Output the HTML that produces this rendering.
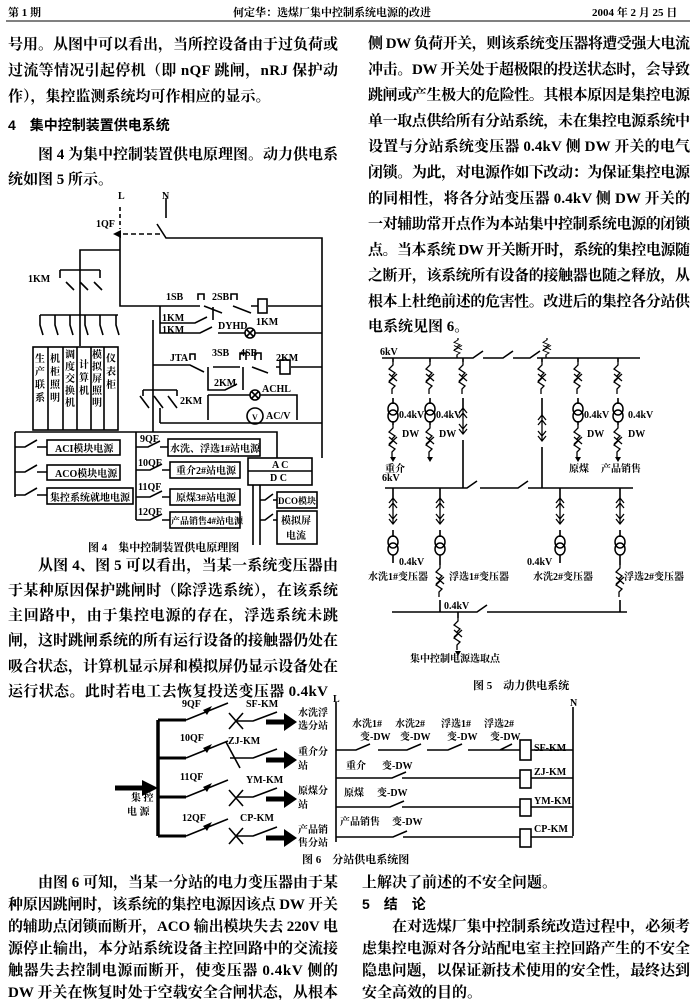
<!DOCTYPE html>
<html><head><meta charset="utf-8"><style>
html,body{margin:0;padding:0;background:#fff}
svg{display:block}
text{font-family:"Liberation Serif","Noto Serif CJK SC","Noto Sans CJK SC",serif;font-weight:700;fill:#000}
.b{font-size:15px}
.s{font-size:10px}
.t{font-size:11px}
.h{font-family:"Liberation Sans","Noto Sans CJK SC",sans-serif;font-size:14px}
</style></head><body>
<svg width="695" height="1000" viewBox="0 0 695 1000" xmlns="http://www.w3.org/2000/svg">
<defs>
<g id="zx" fill="none" stroke="#000" stroke-width="1.3">
<path d="M0,0 v3 l-4,4 l6,4 l-3,3 M-4,12 l8,7 M4,12 l-8,7 M0,16 l-4,4 l6,4 l-3,3 v5"/>
</g>
<g id="tr" fill="none" stroke="#000" stroke-width="1.5"><ellipse cx="0" cy="5" rx="5" ry="6"/><ellipse cx="0" cy="12" rx="5" ry="6"/></g>
<g id="da" fill="none" stroke="#000" stroke-width="1.3"><path d="M-4,5 l4,-5 l4,5 M-4,10 l4,-5 l4,5 M0,0 v26 M-4,21 l4,5 l4,-5 M-4,16 l4,5 l4,-5"/></g>
<path id="ar" d="M-3,-5 L0,0 L3,-5 Z" fill="#000"/>
</defs>

<!-- header -->
<text x="8" y="16" class="t">第 1 期</text>
<text x="233" y="16" class="t">何定华：选煤厂集中控制系统电源的改进</text>
<text x="592" y="16" class="t">2004 年 2 月 25 日</text>
<line x1="6" y1="21" x2="690" y2="21" stroke="#000" stroke-width="1"/>

<!-- left top text -->
<g class="b">
<text x="8" y="49" textLength="330">号用。从图中可以看出，当所控设备由于过负荷或</text>
<text x="8" y="75" textLength="330">过流等情况引起停机（即 nQF 跳闸，nRJ 保护动</text>
<text x="8" y="101">作），集控监测系统均可作相应的显示。</text>
<text x="8" y="130" class="h">4　集中控制装置供电系统</text>
<text x="38" y="159" textLength="300">图 4 为集中控制装置供电原理图。动力供电系</text>
<text x="8" y="184">统如图 5 所示。</text>
</g>

<!-- right top text -->
<g class="b">
<text x="368" y="48" textLength="322">侧 DW 负荷开关，则该系统变压器将遭受强大电流</text>
<text x="368" y="73.8" textLength="322">冲击。DW 开关处于超极限的投送状态时，会导致</text>
<text x="368" y="99.6" textLength="322">跳闸或产生极大的危险性。其根本原因是集控电源</text>
<text x="368" y="125.4" textLength="322">单一取点供给所有分站系统，未在集控电源系统中</text>
<text x="368" y="151.2" textLength="322">设置与分站系统变压器 0.4kV 侧 DW 开关的电气</text>
<text x="368" y="177" textLength="322">闭锁。为此，对电源作如下改动：为保证集控电源</text>
<text x="368" y="202.8" textLength="322">的同相性，将各分站变压器 0.4kV 侧 DW 开关的</text>
<text x="368" y="228.6" textLength="322">一对辅助常开点作为本站集中控制系统电源的闭锁</text>
<text x="368" y="254.4" textLength="322">点。当本系统 DW 开关断开时，系统的集控电源随</text>
<text x="368" y="280.2" textLength="322">之断开，该系统所有设备的接触器也随之释放，从</text>
<text x="368" y="306" textLength="322">根本上杜绝前述的危害性。改进后的集控各分站供</text>
<text x="368" y="331">电系统见图 6。</text>
</g>

<!-- FIGURE 4 -->
<g fill="none" stroke="#000" stroke-width="1.6">
<path d="M120,207 v22" stroke-dasharray="4,3"/>
<path d="M166,198 v20"/>
<path d="M157,224 l9,14 H322 V458"/>
<path d="M160,234 H118" stroke-dasharray="5,3"/>
<path d="M120,234 V306 H200 M204,306 l18,7 M233,306 l18,7 M251,306 H258 M268,306 H322"/>
<rect x="258" y="299" width="9" height="14"/>
<path d="M198,300 v-6 h6 v6 M231,300 v-6 h6 v6"/>
<path d="M120,250 H80 V346 M60,270 H100 M60,270 v8 M100,270 v8 M66,282 l8,8 M80,282 l8,8 M94,282 l8,8 M80,292 V315"/>
<path d="M40,315 H118 M40,315 v10 l3,10 M55,315 v10 l3,10 M70,315 v10 l3,10 M85,315 v10 l3,10 M100,315 v10 l3,10 M116,315 v10 l3,10"/>
<rect x="33" y="347" width="85" height="83"/>
<path d="M48,347 v83 M63,347 v83 M77,347 v83 M91,347 v83 M104,347 v83"/>
<path d="M160,306 V333 H200 l12,-6 M160,323 H195 l12,-6 M213,320 v-13 M218,333 H245 M255,333 H322"/>
<circle cx="250" cy="333" r="5"/><path d="M246,329 l8,8 M254,329 l-8,8"/>
<path d="M153,320 V365 V432 M153,365 H190 l14,7 M213,367 H240 M252,367 l16,6 M276,367 H280 M291,367 H322"/>
<rect x="280" y="360" width="10" height="14"/>
<path d="M190,360 v-6 h5 v6 M240,360 v-7 h6 v7 M255,360 v-7 h6 v7"/>
<path d="M208,367 V390 H225 l12,-6 M243,367 V390"/>
<path d="M143,390 v6 M177,390 v6 M143,390 H177 M140,396 l9,12 M154,396 l9,12 M168,396 l9,12 M160,408 v15"/>
<path d="M208,395 H250 M260,395 H297 V420 M208,395 V420 M160,423 H322"/>
<circle cx="255" cy="395" r="5"/><path d="M251,391 l8,8 M259,391 l-8,8"/>
<circle cx="255" cy="416" r="8"/>
<path d="M15,432 H277 V458 M15,432 V497 M15,447 H25 l12,-7 M37,447 H47 M15,472 H25 l12,-7 M37,472 H47 M15,495 H25 l12,-7 M37,495 H47"/>
<rect x="47" y="440" width="73" height="15"/>
<rect x="47" y="465" width="73" height="15"/>
<rect x="47" y="488" width="86" height="16"/>
<path d="M136,432 V513 M136,447 H148 l12,-6 M160,447 H168 M136,470 H150 l12,-6 M162,470 H170 M136,497 H150 l12,-6 M162,497 H170 M136,520 H150 l12,-6 M162,520 H170 M136,513 v7"/>
<rect x="168" y="439" width="92" height="17"/>
<rect x="170" y="462" width="70" height="16"/>
<rect x="170" y="489" width="70" height="16"/>
<rect x="170" y="512" width="70" height="16"/>
<rect x="248" y="458" width="64" height="27"/><path d="M248,471 H312"/>
<path d="M253,485 V545 M260,485 V545 M260,500 H265 l8,-6 M273,500 H277 M260,520 H265 l8,-6 M273,520 H277"/>
<rect x="277" y="492" width="40" height="16"/>
<rect x="277" y="511" width="40" height="33"/>
</g>
<polygon points="113,234 121,230 121,238" fill="#000"/>
<g class="s">
<text x="118" y="199">L</text><text x="162" y="199">N</text>
<text x="96" y="227">1QF</text>
<text x="28" y="282">1KM</text>
<text x="166" y="300">1SB</text><text x="212" y="300">2SB</text><text x="256" y="325">1KM</text>
<text x="162" y="321">1KM</text><text x="162" y="333">1KM</text><text x="218" y="329">DYHD</text>
<text x="170" y="361">JTA</text><text x="212" y="356">3SB</text><text x="240" y="356">4SB</text><text x="276" y="361">2KM</text>
<text x="214" y="386">2KM</text><text x="180" y="404">2KM</text>
<text x="262" y="392">ACHL</text><text x="252" y="420" style="font-size:8px">V</text><text x="266" y="419">AC/V</text>
<text x="272" y="468">A C</text><text x="270" y="481">D C</text>
<text x="140" y="442">9QF</text><text x="138" y="466">10QF</text><text x="138" y="490">11QF</text><text x="138" y="515">12QF</text>
<text x="55" y="452">ACI模块电源</text>
<text x="55" y="477">ACO模块电源</text>
<text x="50" y="501">集控系统就地电源</text>
<text x="170" y="452">水洗、浮选1#站电源</text>
<text x="176" y="474">重介2#站电源</text>
<text x="176" y="501">原煤3#站电源</text>
<text x="171" y="524" style="font-size:9px">产品销售4#站电源</text>
<text x="278" y="504" style="font-size:9px">DCO模块</text>
<text x="281" y="524">模拟屏</text><text x="286" y="539">电流</text>
</g>
<g class="s" text-anchor="middle">
<text x="40" y="362">生</text><text x="40" y="375">产</text><text x="40" y="388">联</text><text x="40" y="401">系</text>
<text x="55" y="362">机</text><text x="55" y="375">柜</text><text x="55" y="388">照</text><text x="55" y="401">明</text>
<text x="70" y="358">调</text><text x="70" y="370">度</text><text x="70" y="382">交</text><text x="70" y="394">换</text><text x="70" y="406">机</text>
<text x="84" y="368">计</text><text x="84" y="381">算</text><text x="84" y="394">机</text>
<text x="97" y="358">模</text><text x="97" y="370">拟</text><text x="97" y="382">屏</text><text x="97" y="394">照</text><text x="97" y="406">明</text>
<text x="111" y="362">仪</text><text x="111" y="375">表</text><text x="111" y="388">柜</text>
</g>
<text x="88" y="551" class="t">图 4　集中控制装置供电原理图</text>

<!-- left middle text -->
<g class="b">
<text x="38" y="570" textLength="300">从图 4、图 5 可以看出，当某一系统变压器由</text>
<text x="8" y="595" textLength="330">于某种原因保护跳闸时（除浮选系统），在该系统</text>
<text x="8" y="620" textLength="330">主回路中，由于集控电源的存在，浮选系统未跳</text>
<text x="8" y="645" textLength="330">闸，这时跳闸系统的所有运行设备的接触器仍处在</text>
<text x="8" y="671" textLength="330">吸合状态，计算机显示屏和模拟屏仍显示设备处在</text>
<text x="8" y="696" textLength="320">运行状态。此时若电工去恢复投送变压器 0.4kV</text>
</g>

<!-- FIGURE 5 -->
<g fill="none" stroke="#000" stroke-width="1.6">
<path d="M382,358 H473 l10,-7 M483,358 H503 l10,-7 M513,358 H530 l10,-7 M537,358 H640"/>
<path d="M385,488 H467 l10,-7 M480,488 H518 l10,-7 M528,488 H633"/>
<path d="M392,612 H477 l10,-7 M487,612 H627"/>
<path d="M393,358 v4 M430,358 v4 M463,358 v4 M542,358 v4 M578,358 v4 M618,358 v4"/>
<path d="M393,398 v6 M393,421 v4 M430,398 v6 M430,421 v4 M578,398 v6 M578,421 v4 M618,398 v6 M618,421 v4"/>
<path d="M463,398 v10 M463,440 V488 M542,398 V415 M542,447 V488"/>
<path d="M393,488 v10 M440,488 v10 M560,488 v10 M620,488 v10 M393,530 v7 M440,530 v7 M560,530 v7 M620,530 v7"/>
<path d="M393,555 v8 M440,555 v10 M560,555 v8 M620,555 v10 M440,600 V612 M620,600 V612 M458,612 v6"/>
</g>
<use href="#zx" x="393" y="362"/><use href="#zx" x="430" y="362"/><use href="#zx" x="463" y="362"/>
<use href="#zx" x="542" y="362"/><use href="#zx" x="578" y="362"/><use href="#zx" x="618" y="362"/>
<g transform="translate(458,338) scale(1,0.62)"><use href="#zx"/></g>
<g transform="translate(547,338) scale(1,0.62)"><use href="#zx"/></g>
<use href="#tr" x="393" y="404"/><use href="#tr" x="430" y="404"/><use href="#tr" x="578" y="404"/><use href="#tr" x="618" y="404"/>
<use href="#zx" x="393" y="425"/><use href="#zx" x="430" y="425"/><use href="#zx" x="578" y="425"/><use href="#zx" x="618" y="425"/>
<use href="#ar" x="393" y="462"/><use href="#ar" x="430" y="462"/><use href="#ar" x="578" y="462"/><use href="#ar" x="618" y="462"/>
<use href="#da" x="463" y="408"/><use href="#da" x="542" y="415"/>
<use href="#da" x="393" y="498"/><use href="#da" x="440" y="498"/><use href="#da" x="560" y="498"/><use href="#da" x="620" y="498"/>
<use href="#tr" x="393" y="537"/><use href="#tr" x="440" y="537"/><use href="#tr" x="560" y="537"/><use href="#tr" x="620" y="537"/>
<use href="#zx" x="440" y="565"/><use href="#zx" x="620" y="565"/><use href="#zx" x="458" y="618"/>
<use href="#ar" x="458" y="656"/>
<g class="s">
<text x="380" y="355">6kV</text><text x="382" y="481">6kV</text>
<text x="399" y="418">0.4kV</text><text x="436" y="418">0.4kV</text><text x="584" y="418">0.4kV</text><text x="628" y="418">0.4kV</text>
<text x="402" y="437">DW</text><text x="439" y="437">DW</text><text x="587" y="437">DW</text><text x="628" y="437">DW</text>
<text x="385" y="472">重介</text><text x="569" y="472">原煤</text><text x="601" y="472">产品销售</text>
<text x="399" y="565">0.4kV</text><text x="527" y="565">0.4kV</text>
<text x="368" y="580">水洗1#变压器</text><text x="449" y="580">浮选1#变压器</text><text x="533" y="580">水洗2#变压器</text><text x="624" y="580">浮选2#变压器</text>
<text x="444" y="609">0.4kV</text>
<text x="410" y="662">集中控制电源选取点</text>
</g>
<text x="473" y="689" class="t">图 5　动力供电系统</text>

<!-- FIGURE 6 -->
<g fill="none" stroke="#000" stroke-width="1.6">
<path d="M158,720 V836" stroke-width="3.5"/>
<path d="M158,720 H186 M158,758 H186 M158,797 H186 M158,836 H186" stroke-width="3"/>
<path d="M186,720 l42,-17 M186,758 l42,-17 M186,797 l42,-17 M186,836 l42,-17"/>
<path d="M229,713 l14,16 M243,713 l-14,16 M229,790 l14,16 M243,790 l-14,16 M229,828 l14,16 M243,828 l-14,16 M226,742 l14,26"/>
<path d="M237,721 H253 l24,-9 M230,758 H253 l24,-9 M237,797 H253 l24,-9 M237,836 H253 l24,-9"/>
<path d="M266,722 H284 M266,760 H284 M266,799 H284 M266,838 H284" stroke-width="5"/>
<path d="M336,702 V842 M573,707 V836"/>
<path d="M336,750 H356 l14,-6 M378,750 H407 l14,-6 M427,750 H448 l14,-6 M468,750 H500 l12,-6 M500,750 H520 M531,750 H573"/>
<path d="M336,778 H392 l14,-6 M402,778 H520 M531,778 H573"/>
<path d="M336,807 H390 l14,-6 M402,807 H520 M531,807 H573"/>
<path d="M336,837 H393 l14,-6 M403,837 H520 M531,837 H573"/>
<rect x="520" y="740" width="11" height="20"/><rect x="520" y="770" width="11" height="18"/>
<rect x="520" y="799" width="11" height="17"/><rect x="520" y="829" width="11" height="18"/>
<path d="M115,788 H142" stroke-width="5"/>
</g>
<polygon points="142,780 158,788 142,796" fill="#000"/>
<polygon points="284,713 297,722 284,731" fill="#000"/>
<polygon points="284,751 297,760 284,769" fill="#000"/>
<polygon points="284,790 297,799 284,808" fill="#000"/>
<polygon points="284,829 297,838 284,847" fill="#000"/>
<polygon points="203,710 212,706 207,715" fill="#000"/>
<polygon points="203,748 212,744 207,753" fill="#000"/>
<polygon points="203,787 212,783 207,792" fill="#000"/>
<polygon points="203,826 212,822 207,831" fill="#000"/>
<g class="s">
<text x="182" y="707">9QF</text><text x="246" y="707">SF-KM</text>
<text x="180" y="741">10QF</text><text x="228" y="744">ZJ-KM</text>
<text x="180" y="780">11QF</text><text x="246" y="783">YM-KM</text>
<text x="182" y="821">12QF</text><text x="240" y="821">CP-KM</text>
<text x="131" y="801">集 控</text><text x="127" y="815">电 源</text>
<text x="298" y="716">水洗浮</text><text x="298" y="729">选分站</text>
<text x="298" y="755">重介分</text><text x="298" y="769">站</text>
<text x="298" y="794">原煤分</text><text x="298" y="808">站</text>
<text x="298" y="833">产品销</text><text x="298" y="846">售分站</text>
<text x="333" y="702">L</text><text x="570" y="706">N</text>
<text x="352" y="727">水洗1#</text><text x="395" y="727">水洗2#</text><text x="441" y="727">浮选1#</text><text x="484" y="727">浮选2#</text>
<text x="360" y="740">变-DW</text><text x="400" y="740">变-DW</text><text x="447" y="740">变-DW</text><text x="490" y="740">变-DW</text>
<text x="346" y="769">重介</text><text x="382" y="769">变-DW</text>
<text x="344" y="796">原煤</text><text x="377" y="796">变-DW</text>
<text x="340" y="825">产品销售</text><text x="392" y="825">变-DW</text>
<text x="534" y="751">SF-KM</text><text x="534" y="775">ZJ-KM</text><text x="534" y="804">YM-KM</text><text x="534" y="832">CP-KM</text>
</g>
<text x="302" y="863" class="t">图 6　分站供电系统图</text>

<!-- bottom text -->
<g class="b">
<text x="38" y="887" textLength="300">由图 6 可知，当某一分站的电力变压器由于某</text>
<text x="8" y="909" textLength="330">种原因跳闸时，该系统的集控电源因该点 DW 开关</text>
<text x="8" y="931" textLength="330">的辅助点闭锁而断开，ACO 输出模块失去 220V 电</text>
<text x="8" y="953" textLength="330">源停止输出，本分站系统设备主控回路中的交流接</text>
<text x="8" y="975" textLength="330">触器失去控制电源而断开，使变压器 0.4kV 侧的</text>
<text x="8" y="997" textLength="330">DW 开关在恢复时处于空载安全合闸状态，从根本</text>
<text x="362" y="887">上解决了前述的不安全问题。</text>
<text x="362" y="909" class="h">5　结　论</text>
<text x="392" y="931" textLength="298">在对选煤厂集中控制系统改造过程中，必须考</text>
<text x="362" y="953" textLength="328">虑集控电源对各分站配电室主控回路产生的不安全</text>
<text x="362" y="975" textLength="328">隐患问题，以保证新技术使用的安全性，最终达到</text>
<text x="362" y="997">安全高效的目的。</text>
</g>
</svg>
</body></html>
